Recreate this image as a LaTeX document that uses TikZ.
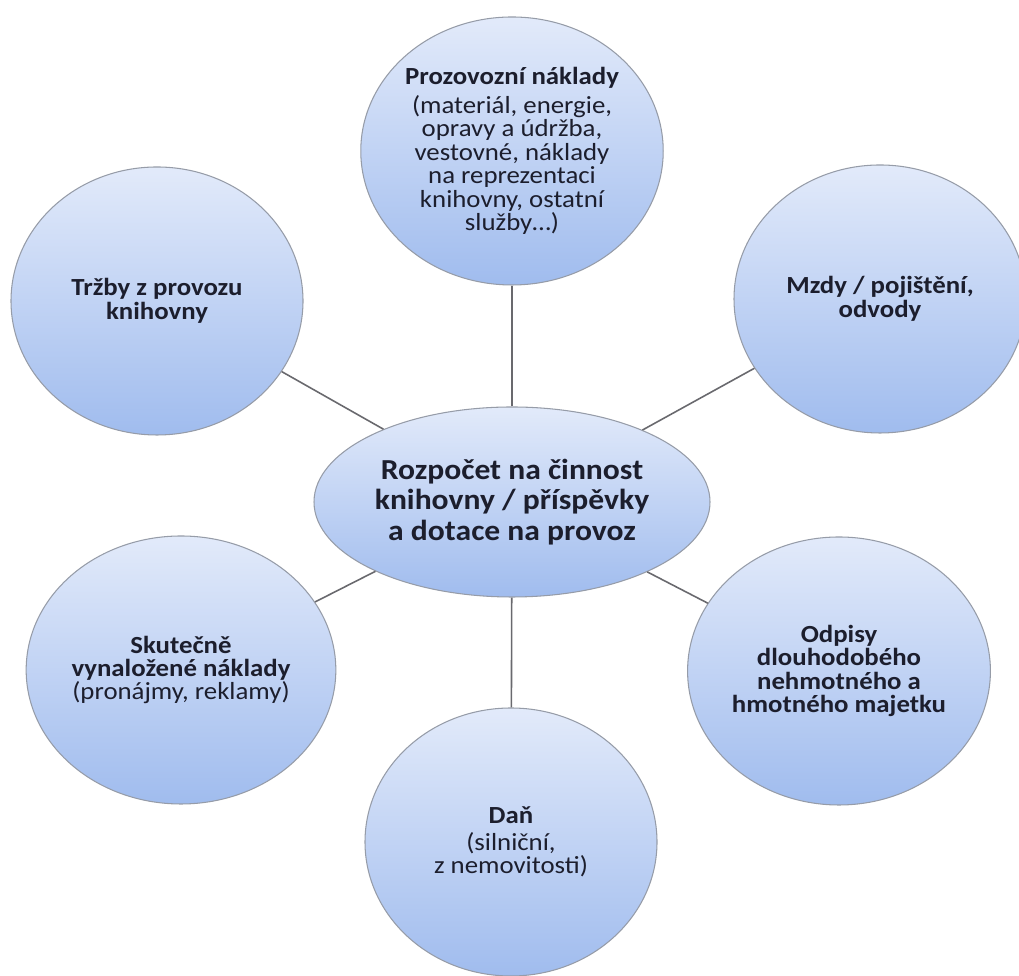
\documentclass[tikz,border=0pt]{standalone}
\usepackage{fontspec}
\setmainfont{Carlito}[FakeStretch=1.09]
\usetikzlibrary{shapes.geometric}
\definecolor{bubbletop}{RGB}{226,234,250}
\definecolor{bubblebot}{RGB}{160,188,238}
\definecolor{bubbleedge}{RGB}{150,156,168}
\definecolor{spokegray}{RGB}{105,105,110}
\definecolor{inkblue}{RGB}{28,30,45}

\begin{document}
\begin{tikzpicture}[
		bubble/.style={ellipse, draw=bubbleedge, line width=0.6pt, top color=bubbletop, bottom color=bubblebot, minimum width=5.84cm, minimum height=5.36cm, inner sep=0pt, align=center, text=inkblue, font=\fontsize{14}{13.3}\selectfont},
		hub/.style={bubble, minimum width=7.92cm, minimum height=3.8cm, font=\fontsize{16.5}{17.4}\selectfont\bfseries},
		spoke/.style={draw=spokegray, line width=0.9pt}
	]
	\fill[white] (0,0) rectangle (20.38,19.52);
	\useasboundingbox (0,0) rectangle (20.38,19.52);
	
	\node[hub] (rozpocet) at (10.24,9.48) {Rozpočet na činnost\\knihovny / příspěvky\\a dotace na provoz};
	
	\node[bubble] (prov) at (10.24,16.5) {\textbf{Prozovozní náklady}\\[3pt](materiál, energie,\\opravy a údržba,\\vestovné, náklady\\na reprezentaci\\knihovny, ostatní\\služby…)};
	\node[bubble] (trzby) at (3.14,13.5) {\textbf{Tržby z provozu}\\\textbf{knihovny}};
	\node[bubble] (mzdy) at (17.6,13.54) {\textbf{Mzdy / pojištění,}\\\textbf{odvody}};
	\node[bubble] (skut) at (3.62,6.12) {\textbf{Skutečně}\\\textbf{vynaložené náklady}\\(pronájmy, reklamy)};
	\node[bubble] (odpisy) at (16.78,6.1) {\textbf{Odpisy}\\\textbf{dlouhodobého}\\\textbf{nehmotného a}\\\textbf{hmotného majetku}};
	\node[bubble] (dan) at (10.22,2.68) {\textbf{Daň}\\[2pt](silniční,\\z nemovitosti)};
	
	\foreach \n in {prov,trzby,mzdy,skut,odpisy,dan}
		\draw[spoke] (rozpocet) -- (\n);
\end{tikzpicture}
\end{document}
